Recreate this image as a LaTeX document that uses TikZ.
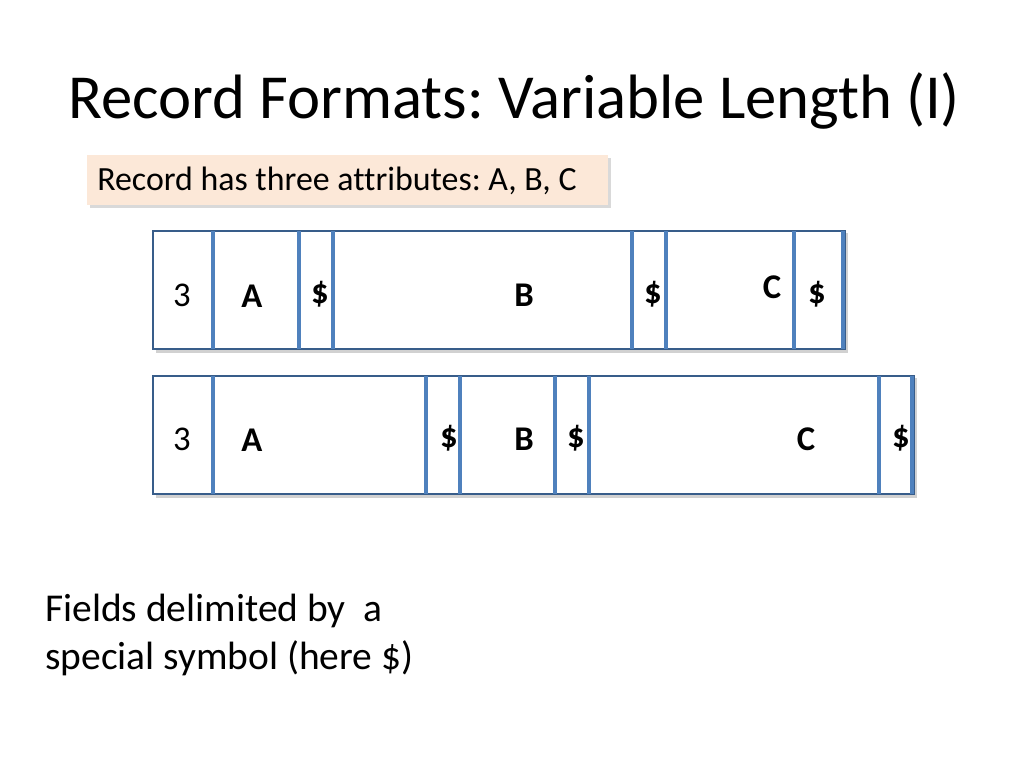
\documentclass[tikz,border=0pt]{standalone}
\usepackage{fontspec}
\setmainfont{Carlito}[Ligatures=NoCommon]
\frenchspacing
\definecolor{sepblue}{HTML}{4F81BD}
\definecolor{edgeblue}{HTML}{385D8A}
\definecolor{peach}{HTML}{FCE8D8}
\begin{document}
\begin{tikzpicture}[x=0.75pt,y=-0.75pt,
  title/.style={anchor=base west,inner sep=0pt,font=\fontsize{47}{56}\selectfont},
  lbl/.style={anchor=base,inner sep=0pt,font=\fontsize{26}{30}\selectfont\bfseries},
  num/.style={anchor=base,inner sep=0pt,font=\fontsize{26}{30}\selectfont},
  rec/.style={draw=edgeblue,line width=0.9pt,fill=white},
  sep/.style={draw=sepblue,line width=3pt},
  shadowbox/.style={fill=black!18}]
\useasboundingbox (0,0) rectangle (1024,768);
% title
\node[title] (t) at (68,118) {Record Formats: Variable Length (I)};
% callout
\fill[black!15] (90,158) rectangle (611,208);
\node[draw=none,fill=peach,minimum width=521*0.75pt,minimum height=50*0.75pt,anchor=north west,inner sep=0pt] (callout) at (87,155) {};
\node[anchor=base west,inner sep=0pt,font=\fontsize{25.4}{30}\selectfont] (ctext) at (97,190) {Record has three attributes: A, B, C};
% row 1
\fill[shadowbox] (156,233) rectangle (848,353);
\draw[rec] (153,231) rectangle (845,349);
\foreach \x in {213,299,333,632,666,794,843}{\draw[sep] (\x,231) -- (\x,349);}
\node[num] (r1n) at (182,306) {3};
\node[lbl] (r1a) at (252,307) {A};
\node[lbl] (r1d1) at (320,303) {\$};
\node[lbl] (r1b) at (524,306) {B};
\node[lbl] (r1d2) at (653,303) {\$};
\node[lbl] (r1c) at (772,298) {C};
\node[lbl] (r1d3) at (817,303) {\$};
% row 2
\fill[shadowbox] (156,378) rectangle (917,498);
\draw[rec] (153,376) rectangle (914,494);
\foreach \x in {213,426,460,555,589,879,912}{\draw[sep] (\x,376) -- (\x,494);}
\node[num] (r2n) at (182,450) {3};
\node[lbl] (r2a) at (252,451) {A};
\node[lbl] (r2d1) at (449,447) {\$};
\node[lbl] (r2b) at (524,450) {B};
\node[lbl] (r2d2) at (576,447) {\$};
\node[lbl] (r2c) at (806,450) {C};
\node[lbl] (r2d3) at (901,447) {\$};
% bottom text
\node[anchor=base west,inner sep=0pt,font=\fontsize{29.6}{36}\selectfont] (f1) at (45,621) {Fields delimited by\ \ a};
\node[anchor=base west,inner sep=0pt,font=\fontsize{29.6}{36}\selectfont] (f2) at (45,669) {special symbol (here \$)};
\end{tikzpicture}
\end{document}
